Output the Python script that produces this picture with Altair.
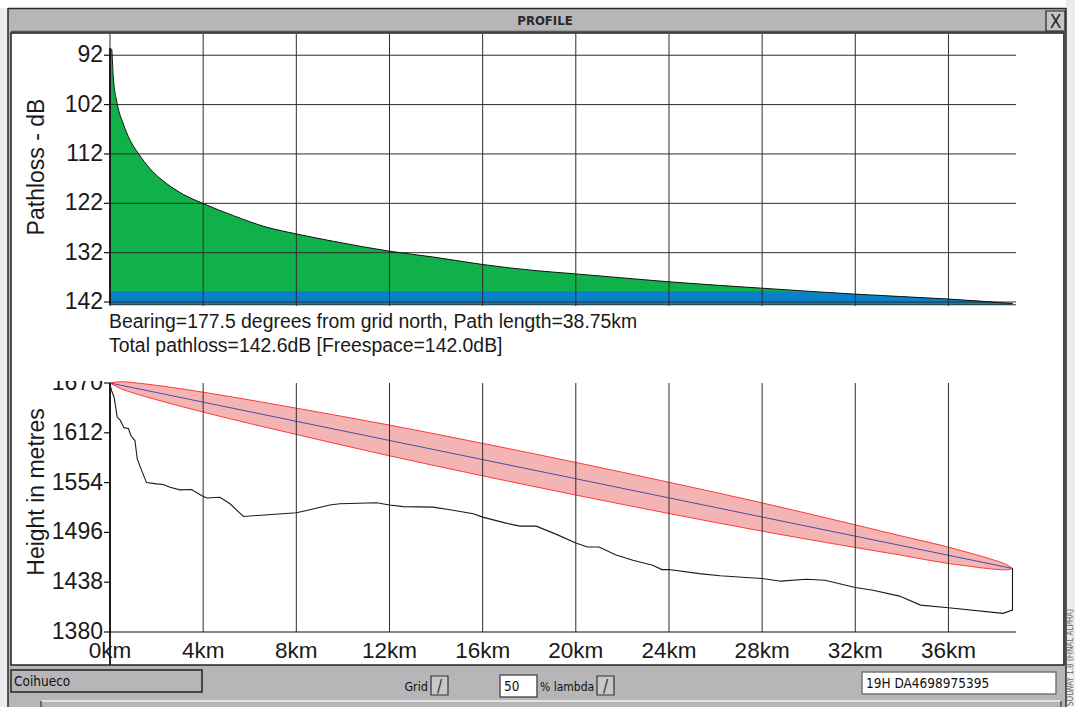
import altair as alt
import pandas as pd

# ---------------- data ----------------
KM_TICKS = [0, 4, 8, 12, 16, 20, 24, 28, 32, 36]
DB_TICKS = [92, 102, 112, 122, 132, 142]
H_TICKS = [1380, 1438, 1496, 1554, 1612, 1670]

# pathloss curve (km, dB)
PL_KM = [0.02, 0.07, 0.14, 0.31, 0.57, 0.86, 1.22, 1.72, 2.43, 3.15, 3.98, 5.3, 6.7, 8.0,
         9.6, 12.0, 13.9, 16.0, 18.2, 20.0, 21.0, 24.0, 28.0, 32.0, 34.0, 36.0, 38.75]
PL_DB = [90.6, 90.8, 96.4, 101.8, 105.9, 109.2, 111.9, 115.0, 118.0, 120.2, 122.0, 124.5, 126.8, 128.2,
         129.7, 131.7, 132.9, 134.4, 135.6, 136.3, 136.7, 137.9, 139.2, 140.4, 140.9, 141.4, 142.3]
BAND_TOP_DB = 139.8
PL_FLOOR_DB = 142.55

# terrain profile (km, metres); last point is the far-end mast top
TER_KM = [0, 0.07, 0.18, 0.31, 0.43, 0.6, 0.79, 0.9, 1.07, 1.17, 1.36, 1.57, 2.0, 2.29, 2.58,
          3.0, 3.5, 3.93, 4.15, 4.72, 5.15, 5.73, 8.0, 8.44, 9.44, 9.87, 11.45, 12.0, 12.6,
          13.87, 14.6, 15.6, 16.0, 17.0, 17.6, 18.3, 19.17, 20.0, 20.5, 21.0, 21.7, 22.45,
          23.3, 23.7, 24.0, 25.3, 26.2, 27.3, 28.0, 28.8, 29.9, 30.7, 32.0, 32.76, 33.9,
          34.8, 36.0, 38.34, 38.75, 38.75]
TER_H = [1668, 1661, 1653, 1630, 1627, 1618, 1617, 1608.5, 1603, 1581.5, 1568, 1554, 1552.5,
         1551.7, 1548.6, 1545.5, 1546, 1539, 1536, 1537, 1529.3, 1514.6, 1518.9, 1521.5, 1528,
         1529.3, 1530.5, 1528, 1526, 1525.4, 1522.3, 1517.7, 1513.8, 1506.8, 1503.3, 1503.3,
         1493.7, 1483.6, 1479, 1479, 1470, 1463.5, 1457.7, 1452.7, 1452.7, 1448, 1445.5,
         1443.5, 1442.3, 1439.2, 1441.5, 1440.3, 1431.9, 1428.7, 1421.8, 1411.3, 1408.2,
         1401.7, 1405.5, 1454]

# Fresnel zone: line of sight and upper / lower edge (km, metres)
FZ_KM = [0, 0.5, 1, 2, 4, 8, 12, 16, 20, 24, 28, 32, 34, 36, 37, 38, 38.5, 38.75]
FZ_LOS = [1670, 1667.2, 1664.4, 1658.9, 1647.7, 1625.4, 1603.1, 1580.8, 1558.5, 1536.2,
          1513.9, 1491.6, 1480.5, 1469.3, 1463.8, 1458.2, 1455.4, 1454.0]
FZ_TOP = [1670, 1671.5, 1670.4, 1667.3, 1659.3, 1640.7, 1621.0, 1599.7, 1577.5, 1554.4,
          1530.4, 1504.8, 1491.7, 1478.9, 1471.4, 1463.4, 1458.4, 1454.0]
FZ_BOT = [1670, 1662.9, 1658.4, 1650.5, 1636.1, 1610.1, 1585.2, 1561.9, 1539.5, 1518.0,
          1497.4, 1478.4, 1469.3, 1459.7, 1456.2, 1453.0, 1452.4, 1454.0]

INFO_1 = "Bearing=177.5 degrees from grid north, Path length=38.75km"
INFO_2 = "Total pathloss=142.6dB [Freespace=142.0dB]"

# ---------------- styling ----------------
FONT = "Liberation Sans"
NARROW = "Liberation Sans Narrow, DejaVu Sans Condensed, Liberation Sans"
INK = "#1a1a1a"
GRID = "#2e2e2e"
GREEN = "#10b04b"
BLUE = "#0a80c8"
PINK = "#f4b4b4"
RED = "#ff3a3a"
LOS_C = "#4a4aa8"
FRAME = "#b6b6b8"
UI = 13.5

xs = alt.Scale(domain=[0, 38.9], range=[110, 1016], nice=False, zero=False)
ys_pl = alt.Scale(domain=[87.7, 142.6], range=[34, 305], nice=False, zero=False)
ys_h = alt.Scale(domain=[1380, 1670], range=[632, 383], nice=False, zero=False)

one = pd.DataFrame({"a": [0]})


def box(x1, y1, x2, y2, fill, stroke=None, sw=1.0, fill_opacity=1.0):
    kw = dict(fill=fill, fillOpacity=fill_opacity)
    if stroke:
        kw.update(stroke=stroke, strokeWidth=sw)
    return alt.Chart(one).mark_rect(**kw).encode(
        x=alt.value(x1), x2=alt.value(x2), y=alt.value(y1), y2=alt.value(y2))


def hline(x1, x2, y, color, w=1.0):
    return alt.Chart(one).mark_rule(color=color, strokeWidth=w).encode(
        x=alt.value(x1), x2=alt.value(x2), y=alt.value(y))


def vline(x, y1, y2, color, w=1.0):
    return alt.Chart(one).mark_rule(color=color, strokeWidth=w).encode(
        x=alt.value(x), y=alt.value(y1), y2=alt.value(y2))


def label(s, x, y, size, font=FONT, color=INK, align="left", baseline="alphabetic",
          weight="normal", angle=0):
    kw = dict(text=s, fontSize=size, font=font, color=color, align=align,
              baseline=baseline, fontWeight=weight)
    if angle:
        kw["angle"] = angle
    return alt.Chart(one).mark_text(**kw).encode(x=alt.value(x), y=alt.value(y))


# ---------------- window chrome ----------------
chrome = [
    box(1066, 0, 1075, 707, "#ececec"),
    box(0, 8, 8, 707, "#ececec"),
    box(8, 8, 1066, 33, FRAME),
    box(8, 8, 11, 707, FRAME),
    box(1063, 8, 1066, 707, FRAME),
    box(8, 665, 1066, 707, FRAME),
    vline(8, 8, 707, "#2a2a2a", 1.5),
    hline(8, 1066, 8.5, "#2a2a2a", 1.5),
    vline(1066, 8, 707, "#2a2a2a", 1.5),
    hline(11, 1064, 31.5, "#555555", 1.5),
    box(11, 33, 1064, 665, "white", "#222222", 1.5, 0.0),
    label("PROFILE", 545, 21, 13, font=NARROW, weight="bold", color="#2a2a2a",
          align="center", baseline="middle"),
    box(1046, 11, 1065, 31, "#c4c4c4", "#222222", 1.2),
    label("X", 1055.5, 22, 19, font=NARROW, color="#222222", align="center", baseline="middle"),
    # status bar
    box(11, 670, 202, 692, FRAME, "#222222", 1.5),
    label("Coihueco", 14, 686, UI, font=NARROW, color="#111111"),
    label("Grid", 428, 691, 12.5, font=NARROW, color="#111111", align="right"),
    box(431, 676, 448, 695, "#c8c8c8", "#333333", 1.2),
    label("/", 439.5, 692, 17, font=NARROW, color="#333333", align="center"),
    box(500, 675, 537, 697, "white", "#555555", 1.5),
    label("50", 504, 691, UI, font=NARROW, color="#111111"),
    label("% lambda", 540, 691, 12, font=NARROW, color="#111111"),
    box(597, 676, 614, 695, "#c8c8c8", "#333333", 1.2),
    label("/", 605.5, 692, 17, font=NARROW, color="#333333", align="center"),
    box(862, 672, 1056, 694, "white", "#777777", 1.5),
    label("19H DA4698975395", 866, 688, UI, font=NARROW, color="#111111"),
    hline(41, 1061, 701, "#f2f2f2", 1.5),
    vline(41, 701, 707, "#333333", 1.2),
    vline(1061, 701, 707, "#333333", 1.2),
    label("SOLWAY 1.8 (FINAL ALPHA)", 1071, 706, 8, font=NARROW, color="#666666",
          baseline="middle", angle=270),
]

# ---------------- top panel: pathloss ----------------
pl_df = pd.DataFrame({"km": PL_KM, "db": PL_DB,
                      "band": [max(v, BAND_TOP_DB) for v in PL_DB]})
km_df = pd.DataFrame({"km": KM_TICKS})
db_df = pd.DataFrame({"db": DB_TICKS})
h_df = pd.DataFrame({"h": H_TICKS})

XK = alt.X("km:Q", scale=xs, axis=None)

green = alt.Chart(pl_df).mark_area(color=GREEN, interpolate="monotone").encode(
    x=XK, y=alt.Y("db:Q", scale=ys_pl, axis=None), y2=alt.Y2Datum(PL_FLOOR_DB))
blue = alt.Chart(pl_df).mark_area(color=BLUE, interpolate="monotone").encode(
    x=XK, y=alt.Y("band:Q", scale=ys_pl, axis=None), y2=alt.Y2Datum(PL_FLOOR_DB))
hgrid = alt.Chart(db_df).mark_rule(color=GRID, strokeWidth=1).encode(
    y=alt.Y("db:Q", scale=ys_pl, axis=None), x=alt.value(110), x2=alt.value(1016))
db_ticks = alt.Chart(db_df).mark_rule(color="#111111", strokeWidth=1.2).encode(
    y=alt.Y("db:Q", scale=ys_pl, axis=None), x=alt.value(104), x2=alt.value(110))
db_labels = alt.Chart(db_df).mark_text(
    font=FONT, fontSize=23, color=INK, align="right", baseline="middle").encode(
    y=alt.Y("db:Q", scale=ys_pl, axis=None), x=alt.value(103), text="db:Q")
vgrid_top = alt.Chart(km_df).mark_rule(color=GRID, strokeWidth=1).encode(
    x=XK, y=alt.value(34), y2=alt.value(306))
curve = alt.Chart(pl_df).mark_line(color="#111111", strokeWidth=1, interpolate="monotone").encode(
    x=XK, y=alt.Y("db:Q", scale=ys_pl, axis=None))
left_top = alt.Chart(one).mark_rule(color="#111111", strokeWidth=1.8).encode(
    x=alt.XDatum(0, scale=xs, axis=None),
    y=alt.YDatum(PL_DB[0], scale=ys_pl, axis=None), y2=alt.Y2Datum(PL_FLOOR_DB))
floor_top = alt.Chart(one).mark_rule(color="#333333", strokeWidth=1).encode(
    y=alt.YDatum(PL_FLOOR_DB, scale=ys_pl, axis=None), x=alt.value(110), x2=alt.value(1016))

top_panel = alt.layer(green, blue, hgrid, vgrid_top, curve, floor_top, left_top,
                      db_ticks, db_labels)

# ---------------- bottom panel: height profile ----------------
fz_df = pd.DataFrame({"km": FZ_KM, "los": FZ_LOS, "top": FZ_TOP, "bot": FZ_BOT})
ter_df = pd.DataFrame({"km": TER_KM, "h": TER_H, "i": list(range(len(TER_KM)))})

pink = alt.Chart(fz_df).mark_area(color=PINK, interpolate="monotone").encode(
    x=XK, y=alt.Y("top:Q", scale=ys_h, axis=None), y2="bot:Q")
red_top = alt.Chart(fz_df).mark_line(color=RED, strokeWidth=1, interpolate="monotone").encode(
    x=XK, y=alt.Y("top:Q", scale=ys_h, axis=None))
red_bot = alt.Chart(fz_df).mark_line(color=RED, strokeWidth=1, interpolate="monotone").encode(
    x=XK, y=alt.Y("bot:Q", scale=ys_h, axis=None))
los = alt.Chart(fz_df).mark_line(color=LOS_C, strokeWidth=1).encode(
    x=XK, y=alt.Y("los:Q", scale=ys_h, axis=None))
vgrid_bot = alt.Chart(km_df).mark_rule(color=GRID, strokeWidth=1).encode(
    x=XK, y=alt.value(383), y2=alt.value(632))
terrain = alt.Chart(ter_df).mark_line(color="#1a1a1a", strokeWidth=1.1).encode(
    x=XK, y=alt.Y("h:Q", scale=ys_h, axis=None), order=alt.Order("i:Q"))
h_ticks = alt.Chart(h_df).mark_rule(color="#111111", strokeWidth=1.2).encode(
    y=alt.Y("h:Q", scale=ys_h, axis=None), x=alt.value(104), x2=alt.value(110))
h_labels = alt.Chart(h_df).mark_text(
    font=FONT, fontSize=23, color=INK, align="right", baseline="middle").encode(
    y=alt.Y("h:Q", scale=ys_h, axis=None), x=alt.value(103), text="h:Q")
km_labels = alt.Chart(km_df).transform_calculate(
    lab="datum.km + 'km'").mark_text(
    font=FONT, fontSize=22.5, color=INK, align="center", baseline="top").encode(
    x=XK, y=alt.value(640), text="lab:N")
left_bot = alt.Chart(one).mark_rule(color="#111111", strokeWidth=1.8).encode(
    x=alt.XDatum(0, scale=xs, axis=None), y=alt.value(383), y2=alt.value(665))
floor_bot = alt.Chart(one).mark_rule(color="#111111", strokeWidth=1).encode(
    y=alt.YDatum(1380, scale=ys_h, axis=None), x=alt.value(110), x2=alt.value(1016))

bottom_panel = alt.layer(pink, red_top, red_bot, los, vgrid_bot, terrain, floor_bot,
                         h_ticks, h_labels, km_labels, left_bot)

# ---------------- titles, info text, clip mask ----------------
texts = [
    label("Pathloss - dB", 37, 167, 23, align="center", baseline="middle", angle=270),
    label("Height in metres", 37, 492, 23, align="center", baseline="middle", angle=270),
    label(INFO_1, 109, 328, 19.4),
    label(INFO_2, 109, 352, 19.4),
    box(40, 358, 103, 381, "white"),
]

chart = alt.layer(*chrome, top_panel, bottom_panel, *texts).resolve_scale(
    y="independent"
).properties(
    width=1075, height=707, padding=0,
    autosize=alt.AutoSizeParams(type="none"), background="white"
).configure_view(strokeWidth=0)

chart.save("out.html", embed_options={"renderer": "svg", "actions": False})
